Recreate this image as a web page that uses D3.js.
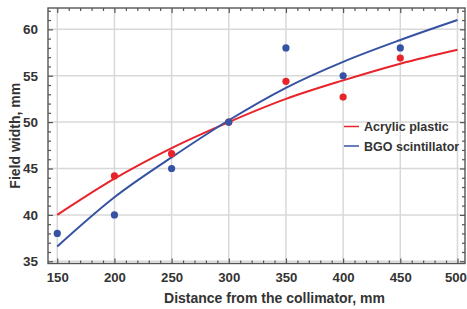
<!DOCTYPE html>
<html><head><meta charset="utf-8">
<script src="https://cdn.jsdelivr.net/npm/d3@7"></script>
<style>body{margin:0;background:#fff}svg{display:block}text{font-family:"Liberation Sans",Arial,sans-serif;font-weight:bold;fill:#333}</style>
</head><body><svg id="c" width="467" height="309"></svg>
<script>
// Measured data points
const acrylicX = [200, 250, 300, 350, 400, 450];
const acrylicY = [44.2, 46.6, 50.0, 54.4, 52.7, 56.9];
const bgoX = [150, 200, 250, 300, 350, 400, 450];
const bgoY = [38.0, 40.0, 45.0, 50.0, 58.0, 55.0, 58.0];
// Fitted curves
const fitX = [150, 200, 250, 300, 350, 400, 450, 500];
const acrylicFit = [40.0, 43.9, 47.2, 50.0, 52.5, 54.5, 56.3, 57.8];
const bgoFit = [36.6, 41.9, 46.2, 50.2, 53.7, 56.5, 58.85, 61.0];
const xTicks = [150, 200, 250, 300, 350, 400, 450, 500];
const yTicks = [35, 40, 45, 50, 55, 60];
const seriesNames = ["Acrylic plastic", "BGO scintillator"];
const colors = ["#e8232a", "#3652a3"];

const svg = d3.select("#c");
const L = 48, R = 465, T = 8, B = 263.5;
const x = d3.scaleLinear().domain([141.9, 506.6]).range([L, R]);
const y = d3.scaleLinear().domain([34.76, 62.3]).range([B, T]);

// grid
const g = svg.append("g");
g.selectAll(".gx").data(xTicks).join("line")
  .attr("x1", d => x(d)).attr("x2", d => x(d)).attr("y1", T).attr("y2", B)
  .attr("stroke", "#d8d8d8").attr("stroke-width", 1.5);
g.selectAll(".gy").data(yTicks).join("line")
  .attr("y1", d => y(d)).attr("y2", d => y(d)).attr("x1", L).attr("x2", R)
  .attr("stroke", "#d8d8d8").attr("stroke-width", 1.5);

// axes with inward ticks
const xMinor = d3.range(150, 507, 10).filter(v => v % 50 !== 0);
const yMinor = d3.range(35, 63, 1).filter(v => v % 5 !== 0);
function addAxis(axisGen, transform) {
  const a = svg.append("g").attr("transform", transform).call(axisGen);
  a.select(".domain").remove();
  a.selectAll(".tick line").attr("stroke", "#555").attr("stroke-width", 1.2);
  return a;
}
const ax = addAxis(d3.axisBottom(x).tickValues(xTicks).tickSize(-5).tickPadding(9), `translate(0,${B})`);
ax.selectAll("text").attr("font-size", 13.2).attr("fill", "#333").attr("font-family", "Liberation Sans, Arial")
  .attr("dx", d => d === 500 ? -2 : 0);
addAxis(d3.axisBottom(x).tickValues(xMinor).tickSize(-3).tickFormat(""), `translate(0,${B})`);
addAxis(d3.axisTop(x).tickValues(xTicks).tickSize(-5).tickFormat(""), `translate(0,${T})`);
addAxis(d3.axisTop(x).tickValues(xMinor).tickSize(-3).tickFormat(""), `translate(0,${T})`);
const ay = addAxis(d3.axisLeft(y).tickValues(yTicks).tickSize(-5).tickPadding(10), `translate(${L},0)`);
ay.selectAll("text").attr("font-size", 13.5).attr("fill", "#333").attr("font-family", "Liberation Sans, Arial");
addAxis(d3.axisLeft(y).tickValues(yMinor).tickSize(-3).tickFormat(""), `translate(${L},0)`);
addAxis(d3.axisRight(y).tickValues(yTicks).tickSize(-5).tickFormat(""), `translate(${R},0)`);
addAxis(d3.axisRight(y).tickValues(yMinor).tickSize(-3).tickFormat(""), `translate(${R},0)`);
svg.selectAll(".tick text").style("font-weight", "bold");

// frame
svg.append("rect").attr("x", L).attr("y", T).attr("width", R - L).attr("height", B - T)
  .attr("fill", "none").attr("stroke", "#555").attr("stroke-width", 1.4);

// curves
const line = d3.line().x(d => x(d[0])).y(d => y(d[1])).curve(d3.curveMonotoneX);
[acrylicFit, bgoFit].forEach((vals, i) => {
  svg.append("path").datum(fitX.map((v, j) => [v, vals[j]]))
    .attr("d", line).attr("fill", "none").attr("stroke", colors[i]).attr("stroke-width", 2);
});

// points
svg.selectAll(".pa").data(acrylicX.map((v, i) => [v, acrylicY[i]])).join("circle")
  .attr("cx", d => x(d[0])).attr("cy", d => y(d[1])).attr("r", 3.6).attr("fill", colors[0]);
svg.selectAll(".pb").data(bgoX.map((v, i) => [v, bgoY[i]])).join("circle")
  .attr("cx", d => x(d[0])).attr("cy", d => y(d[1])).attr("r", 3.6).attr("fill", colors[1]);

// legend
seriesNames.forEach((n, i) => {
  const yy = 126.5 + i * 19.5;
  svg.append("line").attr("x1", 344).attr("x2", 359).attr("y1", yy).attr("y2", yy)
    .attr("stroke", colors[i]).attr("stroke-width", 1.5);
  svg.append("text").attr("x", 364).attr("y", yy + 4.5).attr("font-size", 12.5).text(n);
});

// axis titles
svg.append("text").attr("x", (L + R) / 2 + 18).attr("y", 303).attr("text-anchor", "middle")
  .attr("font-size", 14).text("Distance from the collimator, mm");
svg.append("text").attr("transform", `translate(20,${(T + B) / 2}) rotate(-90)`)
  .attr("text-anchor", "middle").attr("font-size", 14).text("Field width, mm");
</script></body></html>
